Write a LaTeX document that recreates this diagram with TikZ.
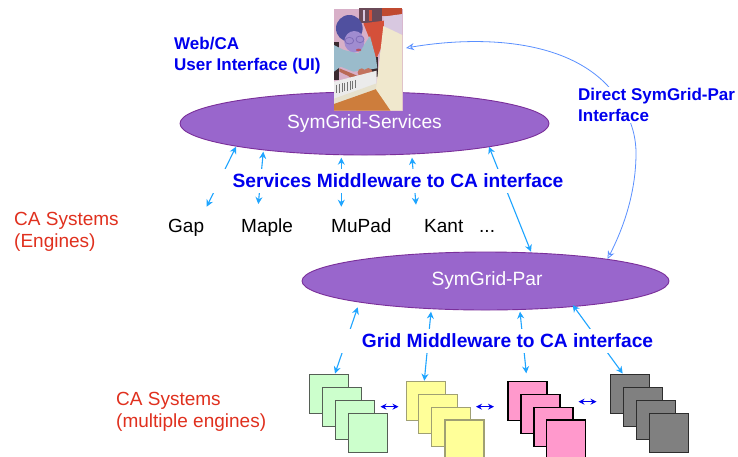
\documentclass[tikz,border=0pt]{standalone}
\usepackage{fontspec}
\setmainfont{Liberation Sans}
\usetikzlibrary{shapes.geometric,arrows.meta}
\definecolor{lblblue}{HTML}{0000EE}
\definecolor{lblred}{HTML}{E0301E}
\definecolor{arrblue}{HTML}{1FA5FF}
\definecolor{curveblue}{HTML}{5A90FF}
\definecolor{ellfill}{HTML}{9966CC}
\definecolor{ellline}{HTML}{7A2F9A}
\definecolor{gfill}{HTML}{CCFFCC}\definecolor{gline}{HTML}{555F55}
\definecolor{yfill}{HTML}{FFFF99}\definecolor{yline}{HTML}{A0A073}
\definecolor{pfill}{HTML}{FF99CC}
\definecolor{dfill}{HTML}{808080}\definecolor{dline}{HTML}{2D2D2D}
\definecolor{phbg}{HTML}{D8B0C8}\definecolor{phshirt}{HTML}{9ABBCB}
\definecolor{pharm}{HTML}{B96955}\definecolor{phhand}{HTML}{C3735F}
\definecolor{phhair}{HTML}{50509F}\definecolor{phface}{HTML}{A08CD0}
\definecolor{phglass}{HTML}{7F6CB8}
\definecolor{phmouth}{HTML}{B85060}\definecolor{phkey}{HTML}{E6E1CD}
\definecolor{phdesk}{HTML}{CD7D3C}\definecolor{phmon}{HTML}{F0E8CD}
\definecolor{phshelf}{HTML}{6A4A58}\definecolor{phred}{HTML}{D4503A}
\definecolor{phtop}{HTML}{C04A30}\definecolor{phlav}{HTML}{D8C8E0}
\definecolor{phdark}{HTML}{3A2A30}
\tikzset{
  ell/.style={ellipse,draw=ellline,line width=0.9pt,fill=ellfill,inner sep=0pt,text=white,font=\fontsize{19.2}{22}\selectfont},
  midlabel/.style={fill=white,inner sep=0pt,text=lblblue,font=\fontsize{19.2}{22}\selectfont\bfseries,minimum height=24pt},
  bluelabel/.style={text=lblblue,font=\fontsize{17}{21}\selectfont\bfseries,align=left,inner sep=0pt},
  redlabel/.style={text=lblred,font=\fontsize{19}{22}\selectfont,align=left,inner sep=0pt,anchor=west},
  engine/.style={text=black,font=\fontsize{19}{22}\selectfont,inner sep=0pt,anchor=base west},
  link/.style={arrblue,line width=1.1pt,{Stealth[length=7pt,width=7pt]}-{Stealth[length=7pt,width=7pt]}},
  peer/.style={lblblue,line width=1pt,{Stealth[length=6pt,width=6pt]}-{Stealth[length=6pt,width=6pt]}},
  direct/.style={curveblue,line width=0.8pt,{Stealth[length=8pt,width=7pt,open,fill=white]}-{Stealth[length=8pt,width=7pt,open,fill=white]}},
  sq/.style={rectangle,draw,line width=1.3pt,minimum size=39pt,inner sep=0pt,anchor=north west},
  greensq/.style={sq,fill=gfill,draw=gline},
  yellsq/.style={sq,fill=yfill,draw=yline},
  pinksq/.style={sq,fill=pfill,draw=black},
  greysq/.style={sq,fill=dfill,draw=dline},
}
\begin{document}
\begin{tikzpicture}[x=1pt,y=-1pt]
\fill[white] (0,0) rectangle (738,456);
\path[use as bounding box,clip] (0,0) rectangle (738,456);

% curve behind everything
\coordinate (dirA) at (406,48);
\coordinate (dirB) at (607.5,259);
\coordinate (dirC) at (607,85);
\coordinate (dirD) at (636,153);

% ellipses
\node[ell,minimum width=369pt,minimum height=63pt] (services) at (364.5,123.5) {SymGrid-Services};
\node[ell,minimum width=367pt,minimum height=58pt] (par) at (485.5,281) {\kern3pt SymGrid-Par};

\draw[direct] (dirA) .. controls (470,37) and (560,36) .. (dirC)
  .. controls (625,105) and (636,128) .. (dirD)
  .. controls (636,190) and (625,225) .. (dirB);

% photo
\node[rectangle,inner sep=0pt,minimum width=68.3pt,minimum height=102.4pt,anchor=north west,fill=phbg] (photo) at (334,8.3) {};
\begin{scope}[shift={(320,0)},x=0.33333pt,y=-0.33333pt]
\clip (42,25) rectangle (247,332);
\fill[phshelf] (118,25) rectangle (185,68);
\fill[phlav] (128,30) rectangle (136,62);
\fill[phred] (148,30) rectangle (155,62);
\fill[phtop] (185,25) rectangle (247,48);
\fill[phlav] (190,50) -- (247,42) -- (247,105) -- (190,80) -- cycle;
\fill[phred] (130,70) -- (192,62) -- (190,130) -- (168,178) -- (150,120) -- cycle;
\fill[phdark] (42,125) rectangle (58,240);
\fill[phdark] (150,170) rectangle (175,230);
\fill[phshirt] (42,135) -- (72,150) -- (115,160) -- (150,108) -- (168,175) -- (172,205) -- (100,215) -- (62,200) -- (42,215) -- cycle;
\fill[pharm] (58,205) -- (100,222) -- (122,232) -- (105,245) -- (85,228) -- (58,215) -- cycle;
\fill[phhand] (125,218) ellipse (12 and 13);
\fill[phhand] (145,218) ellipse (13 and 14);
\fill[phhair] (88,85) ellipse (40 and 40);
\fill[phface] (103,125) ellipse (30 and 32);
\draw[phglass,line width=0.8pt] (88,122) ellipse (13 and 10) (120,118) ellipse (12 and 10);
\fill[phmouth] (116,150) ellipse (8 and 4);
\fill[white!92!black] (42,245) -- (170,212) -- (170,258) -- (42,305) -- cycle;
\foreach \k in {50,58,...,110}{\draw[black!55,line width=1pt] (\k,{267-0.26*\k}) -- (\k,{293-0.26*\k});}
\fill[phkey] (42,296) -- (170,250) -- (172,268) -- (42,312) -- cycle;
\fill[phdesk] (42,312) -- (172,266) -- (212,332) -- (42,332) -- cycle;
\fill[phmon] (190,78) -- (247,105) -- (247,332) -- (212,332) -- (168,268) -- cycle;
\end{scope}

% upper connectors (behind middle label)
\coordinate (g1) at (236,146.7); \coordinate (g2) at (206.7,206.7);
\coordinate (m1) at (263.3,151.7); \coordinate (m2) at (258.3,204);
\coordinate (u1) at (341.3,157.7); \coordinate (u2) at (341.3,206.7);
\coordinate (k1) at (412,157.7); \coordinate (k2) at (416,204.7);
\coordinate (r1) at (489,146.7); \coordinate (r2) at (531,251.7);
\foreach \a/\b in {g1/g2,m1/m2,u1/u2,k1/k2,r1/r2}{\draw[link] (\a) -- (\b);}
\node[midlabel,minimum width=372pt] (svcmid) at (398,180.5) {Services Middleware to CA interface};

% stacks
\node[greensq] (a1) at (308.5,374) {};
\node[greensq] (a2) at (321.5,387) {};
\node[greensq] (a3) at (334.5,400) {};
\node[greensq] (a4) at (347.5,413) {};
\node[yellsq] (b1) at (406,380.7) {};
\node[yellsq] (b2) at (417.7,393.7) {};
\node[yellsq] (b3) at (430.7,406.7) {};
\node[yellsq] (b4) at (444.3,419.3) {};
\node[pinksq] (c1) at (507.3,380.7) {};
\node[pinksq] (c2) at (520.3,393.7) {};
\node[pinksq] (c3) at (533.3,406.7) {};
\node[pinksq] (c4) at (546,419.3) {};
\node[greysq] (d1) at (610,374) {};
\node[greysq] (d2) at (622.7,387) {};
\node[greysq] (d3) at (635.7,400) {};
\node[greysq] (d4) at (648.7,413) {};

% lower connectors
\coordinate (h1) at (357.7,307.3); \coordinate (h2) at (335,373.5);
\coordinate (i1) at (431,311.7); \coordinate (i2) at (424.3,380.7);
\coordinate (j1) at (520,311.7); \coordinate (j2) at (526.3,373.3);
\coordinate (l1) at (572.7,305); \coordinate (l2) at (622.7,373.5);
\foreach \a/\b in {h1/h2,i1/i2,j1/j2,l1/l2}{\draw[link] (\a) -- (\b);}
\node[midlabel,minimum width=334pt] (gridmid) at (507.5,341) {Grid Middleware to CA interface};

% peer arrows
\coordinate (p1) at (380.5,406.7); \coordinate (p2) at (398.5,406.7);
\coordinate (p3) at (476,406.7); \coordinate (p4) at (494,406.7);
\coordinate (p5) at (578.5,401.7); \coordinate (p6) at (596.5,401.7);
\draw[peer] (p1) -- (p2);
\draw[peer] (p3) -- (p4);
\draw[peer] (p5) -- (p6);

% text
\node[bluelabel,anchor=north west] (ui) at (174,37) {Web/CA\\User Interface (UI)};
\node[bluelabel,anchor=north west,fill=white,inner ysep=1pt,inner xsep=1pt] (direct) at (577,87) {Direct SymGrid-Par\\Interface};
\node[redlabel] (ca1) at (14,232) {CA Systems\\(Engines)};
\node[redlabel] (ca2) at (116,412) {CA Systems\\(multiple engines)};
\node[engine] (gap) at (168,232) {Gap};
\node[engine] (maple) at (241,232) {Maple};
\node[engine] (mupad) at (331,232) {MuPad};
\node[engine] (kant) at (424,232) {Kant};
\node[engine] (dots) at (479,232) {...};
\end{tikzpicture}
\end{document}
